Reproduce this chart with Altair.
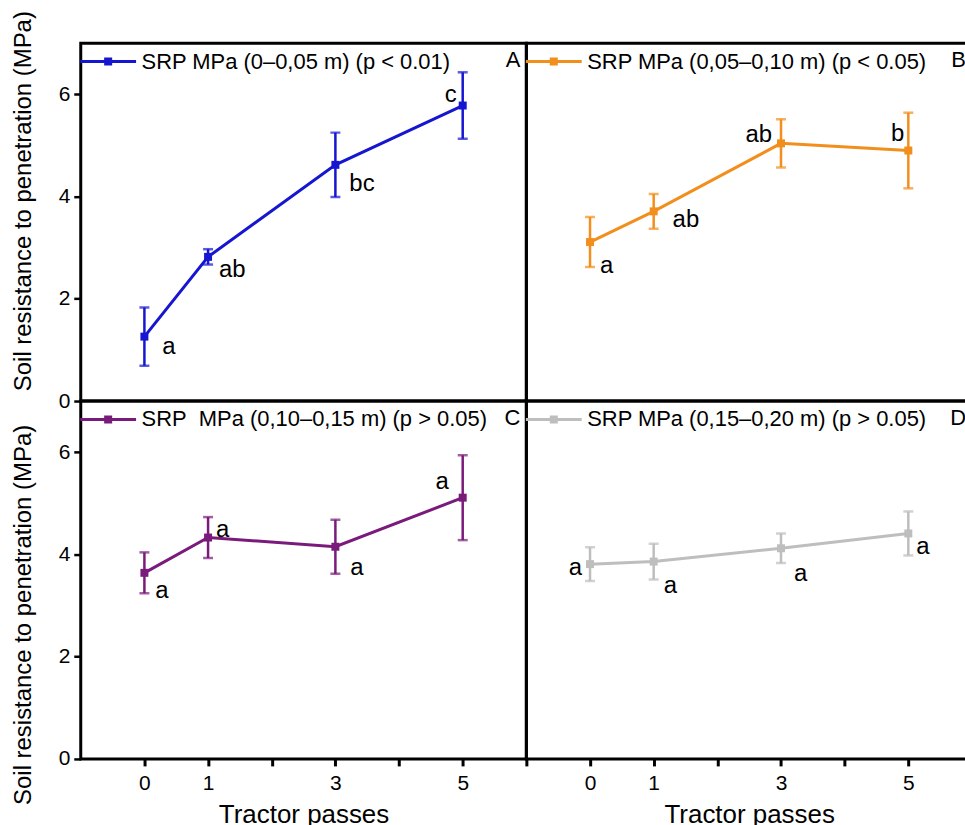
import altair as alt
import pandas as pd

# Tractor passes (x) shared by all four depth layers
passes = [0, 1, 3, 5]

# Mean soil resistance to penetration (MPa) and error half-widths per depth
srp_a = [1.26, 2.82, 4.62, 5.78]
err_a = [0.57, 0.15, 0.63, 0.65]
srp_b = [3.11, 3.71, 5.04, 4.90]
err_b = [0.49, 0.34, 0.47, 0.74]
srp_c = [3.64, 4.33, 4.15, 5.11]
err_c = [0.40, 0.40, 0.53, 0.83]
srp_d = [3.81, 3.86, 4.12, 4.41]
err_d = [0.33, 0.35, 0.29, 0.43]

# Mean-separation letters
letters_a = ["a", "ab", "bc", "c"]
letters_b = ["a", "ab", "ab", "b"]
letters_c = ["a", "a", "a", "a"]
letters_d = ["a", "a", "a", "a"]

series_a = "SRP MPa (0\u20130,05 m) (p < 0.01)"
series_b = "SRP MPa (0,05\u20130,10 m) (p < 0.05)"
series_c = "SRP\u00a0 MPa (0,10\u20130,15 m) (p > 0.05)"
series_d = "SRP MPa (0,15\u20130,20 m) (p > 0.05)"

# Where each letter sits next to its point: (align, dx, dy) in pixels
label_place_a = [("left", 18, 10), ("left", 11, 13), ("left", 14, 19), ("right", -6, -11)]
label_place_b = [("left", 10, 24), ("left", 19, 9), ("right", -9, -8), ("right", -4, -17)]
label_place_c = [("left", 11, 18), ("left", 8, -8), ("left", 15, 21), ("right", -14, -16)]
label_place_d = [("right", -8, 4), ("left", 10, 25), ("left", 13, 26), ("left", 8, 14)]

FONT = "Liberation Sans"
PANEL_W = 447
PANEL_H = 359
X_DOMAIN = [-1, 6]
Y_DOMAIN = [0, 7]

# line with a small square in the middle, drawn as one legend symbol
LEGEND_SYMBOL = "M-1,0H1M-0.09,-0.09H0.09V0.09H-0.09Z"


def make_frame(srp, err, letters, places, series):
    return pd.DataFrame({
        "passes": passes,
        "srp": srp,
        "lo": [m - e for m, e in zip(srp, err)],
        "hi": [m + e for m, e in zip(srp, err)],
        "letter": letters,
        "align": [p[0] for p in places],
        "dx": [p[1] for p in places],
        "dy": [p[2] for p in places],
        "series": [series] * len(srp),
    })


def panel(df, color, series, tag, bottom, left, title_y):
    if bottom:
        x_axis = alt.Axis(
            values=[0, 1, 2, 3, 4, 5, 6],
            labelExpr="indexof([0, 1, 3, 5], datum.value) >= 0 ? datum.label : ''",
            title="Tractor passes",
            domain=False, grid=False, tickSize=7, tickWidth=3,
            labelFontSize=21, labelPadding=7, titleFontSize=26, titlePadding=8,
        )
    else:
        x_axis = None
    if left:
        y_axis = alt.Axis(
            values=[0, 2, 4, 6], title="Soil resistance to penetration (MPa)",
            domain=False, grid=False, tickSize=7, tickWidth=2.5,
            labelFontSize=21, labelPadding=4, titleFontSize=24,
            titleX=-57, titleY=title_y, titleBaseline="middle", titleAlign="center",
        )
    else:
        y_axis = None

    xs = alt.Scale(domain=X_DOMAIN, nice=False, zero=False)
    ys = alt.Scale(domain=Y_DOMAIN, nice=False)
    x = alt.X("passes:Q", scale=xs, axis=x_axis)
    y = alt.Y("srp:Q", scale=ys, axis=y_axis)
    base = alt.Chart(df)

    line = base.mark_line(strokeWidth=3).encode(
        x=x, y=y,
        color=alt.Color(
            "series:N",
            scale=alt.Scale(domain=[series], range=[color]),
            legend=alt.Legend(
                orient="none", legendX=-2, legendY=-11, title=None,
                symbolType=LEGEND_SYMBOL, symbolSize=3136, symbolStrokeWidth=3,
                symbolFillColor=color, symbolStrokeColor=color,
                labelFontSize=22, labelFont=FONT, labelColor="black",
                labelOffset=4, labelLimit=0, padding=0,
            ),
        ),
    )
    bars = base.mark_rule(color=color, strokeWidth=2.5).encode(
        x=x, y=alt.Y("lo:Q", scale=ys, axis=y_axis), y2="hi:Q"
    )
    cap_lo = base.mark_tick(color=color, orient="horizontal", size=10, thickness=2.5).encode(
        x=x, y=alt.Y("lo:Q", scale=ys, axis=y_axis)
    )
    cap_hi = base.mark_tick(color=color, orient="horizontal", size=10, thickness=2.5).encode(
        x=x, y=alt.Y("hi:Q", scale=ys, axis=y_axis)
    )
    points = base.mark_square(color=color, size=64, opacity=1).encode(x=x, y=y)
    labels = base.mark_text(
        font=FONT, fontSize=24, color="black", baseline="middle",
        align=alt.expr("datum.align"), dx=alt.expr("datum.dx"), dy=alt.expr("datum.dy"),
    ).encode(x=x, y=y, text="letter:N")

    # panel tag in the top-right corner of the frame
    tag_mark = alt.Chart(
        pd.DataFrame({"px": [X_DOMAIN[1]], "py": [Y_DOMAIN[1]], "tag": [tag]})
    ).mark_text(
        font=FONT, fontSize=22, color="black", align="right", baseline="middle", dx=-6, dy=17
    ).encode(
        x=alt.X("px:Q", scale=xs, axis=x_axis),
        y=alt.Y("py:Q", scale=ys, axis=y_axis),
        text="tag:N",
    )

    return alt.layer(line, bars, cap_lo, cap_hi, points, labels, tag_mark).properties(
        width=PANEL_W, height=PANEL_H,
    )


df_a = make_frame(srp_a, err_a, letters_a, label_place_a, series_a)
df_b = make_frame(srp_b, err_b, letters_b, label_place_b, series_b)
df_c = make_frame(srp_c, err_c, letters_c, label_place_c, series_c)
df_d = make_frame(srp_d, err_d, letters_d, label_place_d, series_d)

pa = panel(df_a, "#1616d0", series_a, "A", bottom=False, left=True, title_y=158)
pb = panel(df_b, "#f28e1c", series_b, "B", bottom=False, left=False, title_y=0)
pc = panel(df_c, "#7a1a7a", series_c, "C", bottom=True, left=True, title_y=214)
pd_ = panel(df_d, "#bebebe", series_d, "D", bottom=True, left=False, title_y=0)

chart = (
    alt.concat(pa, pb, pc, pd_, columns=2, spacing=0, bounds="flush")
    .resolve_scale(color="independent", x="independent", y="independent")
    .properties(
        background="white",
        padding={"left": 10, "top": 7, "right": -10, "bottom": -4},
    )
    .configure_view(stroke="black", strokeWidth=3)
    .configure_axis(
        grid=False, labelFont=FONT, titleFont=FONT, labelColor="black",
        titleColor="black", tickColor="black", titleFontWeight="normal",
    )
)

chart.save("out.html", embed_options={"renderer": "svg", "actions": False})
